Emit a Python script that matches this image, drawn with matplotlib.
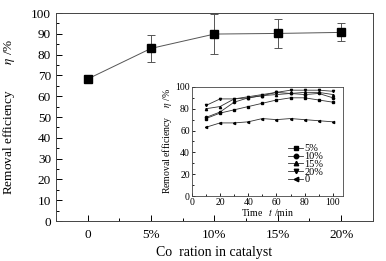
import matplotlib
matplotlib.use("Agg")
import matplotlib.pyplot as plt
from matplotlib.ticker import MultipleLocator

plt.rcParams['font.family'] = ['Liberation Serif', 'DejaVu Serif']
plt.rcParams['mathtext.fontset'] = 'stix'

# main chart data
co_labels = ["0", "5%", "10%", "15%", "20%"]
efficiency = [68.3, 83.0, 89.9, 90.2, 90.7]
eff_err = [2.0, 6.4, 9.5, 7.0, 4.3]

# inset data
time_min = [10, 20, 30, 40, 50, 60, 70, 80, 90, 100]
series_names = ["5%", "10%", "15%", "20%", "0"]
eff_5 = [71, 76, 79, 82, 85, 88, 90, 90, 88, 86]
eff_10 = [72, 77, 86, 90, 92, 95, 94, 93, 94, 90]
eff_15 = [80, 82, 89, 90, 92, 93, 94, 95, 95, 93]
eff_20 = [83, 89, 89, 91, 93, 95, 97, 97, 97, 96]
eff_0 = [63, 67, 67, 68, 71, 70, 71, 70, 69, 68]
series_vals = [eff_5, eff_10, eff_15, eff_20, eff_0]
markers = ['s', 'o', '^', 'v', '<']

fig = plt.figure(figsize=(3.86, 2.61), dpi=100)
ax = fig.add_axes([0.145, 0.153, 0.821, 0.797])

xpos = list(range(len(co_labels)))
ax.errorbar(xpos, efficiency, yerr=eff_err, color='#555555', lw=0.7,
            marker='s', ms=6, mfc='black', mec='black',
            ecolor='#555555', elinewidth=0.7, capsize=3, capthick=0.7)
ax.set_xlim(-0.5, 4.5)
ax.set_ylim(0, 100)
ax.set_xticks(xpos)
ax.set_xticklabels(co_labels)
ax.xaxis.set_minor_locator(MultipleLocator(0.5))
ax.yaxis.set_major_locator(MultipleLocator(10))
ax.yaxis.set_minor_locator(MultipleLocator(5))
ax.tick_params(which='both', direction='in', labelsize=9.5, width=0.7)
ax.tick_params(which='major', length=4)
ax.tick_params(which='minor', length=2)
ax.tick_params(axis='x', pad=6)
for s in ax.spines.values():
    s.set_linewidth(0.7)
    s.set_color('#444444')
ax.set_xlabel("Co  ration in catalyst", fontsize=10, labelpad=3)
ax.set_ylabel("Removal efficiency        $\\eta$ /%", fontsize=9.5, labelpad=10)

# inset
ins = fig.add_axes([0.497, 0.249, 0.391, 0.418])
for vals, name, m in zip(series_vals, series_names, markers):
    ins.plot(time_min, vals, color='#333333', lw=0.6, marker=m, ms=1.6,
             mfc='black', mec='black', label=name)
ins.set_xlim(0, 107)
ins.set_ylim(0, 100)
ins.xaxis.set_major_locator(MultipleLocator(20))
ins.xaxis.set_minor_locator(MultipleLocator(10))
ins.yaxis.set_major_locator(MultipleLocator(20))
ins.yaxis.set_minor_locator(MultipleLocator(10))
ins.tick_params(which='both', direction='in', labelsize=7, width=0.6, pad=1.5)
ins.tick_params(which='major', length=2.5)
ins.tick_params(which='minor', length=1.5)
for s in ins.spines.values():
    s.set_linewidth(0.6)
    s.set_color('#444444')
ins.set_xlabel("Time   $t$ /min", fontsize=7, labelpad=0)
ins.set_ylabel("Removal efficiency    $\\eta$ /%", fontsize=7, labelpad=1)
ins.legend(loc='lower right', frameon=False, fontsize=7.5, handlelength=1.5,
           handletextpad=0.1, labelspacing=-0.15, borderaxespad=0.3,
           markerscale=2, bbox_to_anchor=(0.92, 0.04))

fig.savefig("out.png", dpi=100)
